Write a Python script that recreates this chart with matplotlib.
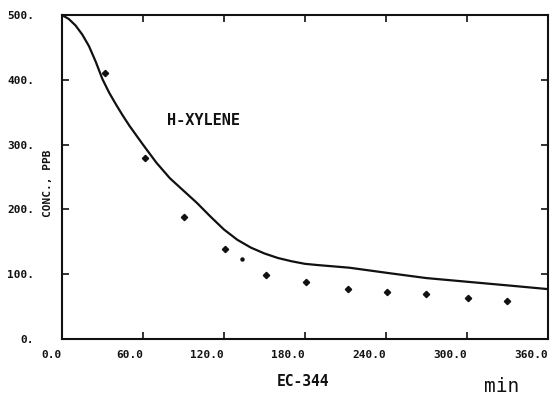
import matplotlib
matplotlib.use("Agg")
import matplotlib.pyplot as plt

# model curve (min, ppb)
curve_t = [0, 5, 10, 15, 20, 25, 30, 35, 40, 45, 50, 60, 70, 80, 90, 100, 110,
           120, 130, 140, 150, 160, 170, 180, 190, 213, 241, 270, 302, 334, 360]
curve_c = [500, 494, 484, 470, 452, 428, 401, 380, 362, 345, 329, 300, 272, 248,
           229, 210, 189, 169, 153, 141, 132, 125, 120, 116, 114, 110, 102, 94, 88,
           82, 77]

# measured points
obs_t = [32, 61.5, 90.5, 121, 151, 181, 212, 241, 270, 301, 330]
obs_c = [410, 280, 189, 139, 99, 88, 77, 73, 69, 63, 58]

# lone small dot
dot_t = [133.5]
dot_c = [124]

xticks = [0, 60, 120, 180, 240, 300, 360]
xticklabels = ["0.0", "60.0", "120.0", "180.0", "240.0", "300.0", "360.0"]
yticks = [0, 100, 200, 300, 400, 500]
yticklabels = ["0.", "100.", "200.", "300.", "400.", "500."]

mono = "DejaVu Sans Mono"

fig = plt.figure(figsize=(5.55, 3.96), dpi=100)
ax = fig.add_axes([0.1117, 0.144, 0.8753, 0.818])

ax.plot(curve_t, curve_c, color="#111111", lw=1.6, solid_joinstyle="round")
ax.plot(obs_t, obs_c, linestyle="none", marker="D", ms=3.2, color="#111111")
ax.plot(dot_t, dot_c, linestyle="none", marker="o", ms=2.2, color="#111111")

ax.set_xlim(0, 360)
ax.set_ylim(0, 500)

ax.set_xticks(xticks)
ax.set_xticklabels(xticklabels, family=mono, fontweight="bold", fontsize=8, ha="right")
ax.set_yticks(yticks)
ax.set_yticklabels(yticklabels, family=mono, fontweight="bold", fontsize=8)
ax.tick_params(direction="in", length=5, width=1.2, top=True, right=True,
               pad=8, colors="#111111")
ax.tick_params(axis="y", pad=20)

for s in ax.spines.values():
    s.set_linewidth(1.5)
    s.set_color("#111111")

# y label sits just inside the axis frame
ax.text(-0.028, 0.48, "CONC., PPB", transform=ax.transAxes, rotation=90,
        family=mono, fontweight="bold", fontsize=8, ha="center", va="center",
        color="#111111")

ax.text(78, 338, "H-XYLENE", family=mono, fontweight="bold", fontsize=11,
        ha="left", va="center", color="#111111")

fig.text(303 / 555, 1 - 382 / 396, "EC-344", family=mono, fontweight="bold",
         fontsize=10.5, ha="center", va="center", color="#111111")
fig.text(502 / 555, 1 - 387 / 396, "min", family=mono, fontsize=14,
         ha="center", va="center", color="#111111")

fig.savefig("out.png", dpi=100)
